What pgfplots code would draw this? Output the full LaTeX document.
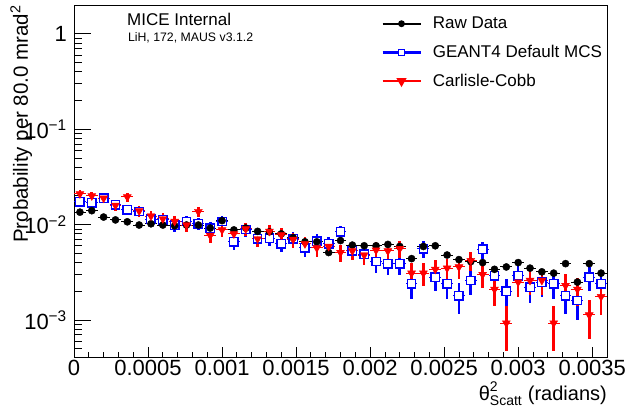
\documentclass[border=0pt]{standalone}
\usepackage{pgfplots}
\usepackage{pgfplotstable}
\pgfplotsset{compat=1.18}
\usepackage{fontspec}
\setmainfont{Liberation Sans}
\usepackage{amsmath}

\pgfplotstableread{
x y ey
0.00004 0.0135 0.00052
0.00012 0.0140 0.00053
0.00020 0.0120 0.00049
0.00028 0.0112 0.00048
0.00036 0.0107 0.00047
0.00044 0.0099 0.00045
0.00052 0.0102 0.00046
0.00060 0.0099 0.00045
0.00068 0.0097 0.00044
0.00076 0.0099 0.00045
0.00084 0.0099 0.00045
0.00092 0.0092 0.00043
0.00100 0.0110 0.00047
0.00108 0.0088 0.00042
0.00116 0.0092 0.00043
0.00124 0.0085 0.00041
0.00132 0.0084 0.00041
0.00140 0.0080 0.00040
0.00148 0.0073 0.00038
0.00156 0.0066 0.00037
0.00164 0.0066 0.00037
0.00172 0.0051 0.00032
0.00180 0.0068 0.00037
0.00188 0.0061 0.00035
0.00196 0.0060 0.00035
0.00204 0.0060 0.00035
0.00212 0.0062 0.00035
0.00220 0.0059 0.00035
0.00228 0.0044 0.00030
0.00236 0.0059 0.00035
0.00244 0.0060 0.00035
0.00252 0.0048 0.00031
0.00260 0.0043 0.00030
0.00268 0.0041 0.00029
0.00276 0.0040 0.00028
0.00284 0.0034 0.00026
0.00292 0.0036 0.00027
0.00300 0.0040 0.00028
0.00308 0.0035 0.00027
0.00316 0.0032 0.00025
0.00324 0.0031 0.00025
0.00332 0.0039 0.00028
0.00340 0.0025 0.00023
0.00348 0.0039 0.00028
0.00356 0.0031 0.00025
}\rawdata

\pgfplotstableread{
x y ey
0.00004 0.0174 0.00198
0.00012 0.0170 0.00196
0.00020 0.0189 0.00206
0.00028 0.0161 0.00190
0.00036 0.0143 0.00179
0.00044 0.0137 0.00176
0.00052 0.0114 0.00160
0.00060 0.0112 0.00159
0.00068 0.0099 0.00149
0.00076 0.0108 0.00156
0.00084 0.0102 0.00152
0.00092 0.0092 0.00144
0.00100 0.0108 0.00156
0.00108 0.0066 0.00122
0.00116 0.0089 0.00142
0.00124 0.0071 0.00126
0.00132 0.0072 0.00127
0.00140 0.0063 0.00119
0.00148 0.0071 0.00126
0.00156 0.0057 0.00113
0.00164 0.0067 0.00123
0.00172 0.0063 0.00119
0.00180 0.0084 0.00137
0.00188 0.0053 0.00109
0.00196 0.0049 0.00105
0.00204 0.0041 0.00096
0.00212 0.0039 0.00094
0.00220 0.0039 0.00094
0.00228 0.0024 0.00073
0.00236 0.0056 0.00112
0.00244 0.0028 0.00079
0.00252 0.0024 0.00073
0.00260 0.0018 0.00064
0.00268 0.0026 0.00076
0.00276 0.0055 0.00111
0.00284 0.0029 0.00081
0.00292 0.0020 0.00067
0.00300 0.0029 0.00081
0.00308 0.0022 0.00070
0.00316 0.0025 0.00075
0.00324 0.0024 0.00073
0.00332 0.0018 0.00064
0.00340 0.0016 0.00060
0.00348 0.0028 0.00079
0.00356 0.0024 0.00073
}\geantdata

\pgfplotstableread{
x y ey
0.00004 0.0210 0.00217
0.00012 0.0200 0.00212
0.00020 0.0189 0.00206
0.00028 0.0159 0.00189
0.00036 0.0195 0.00209
0.00044 0.0139 0.00177
0.00052 0.0123 0.00166
0.00060 0.0115 0.00161
0.00068 0.0108 0.00156
0.00076 0.0099 0.00149
0.00084 0.0137 0.00176
0.00092 0.0077 0.00132
0.00100 0.0088 0.00141
0.00108 0.0080 0.00134
0.00116 0.0090 0.00142
0.00124 0.0071 0.00126
0.00132 0.0085 0.00138
0.00140 0.0078 0.00132
0.00148 0.0070 0.00126
0.00156 0.0063 0.00119
0.00164 0.0057 0.00113
0.00172 0.0059 0.00115
0.00180 0.0051 0.00107
0.00188 0.0053 0.00109
0.00196 0.0048 0.00104
0.00204 0.0054 0.00110
0.00212 0.0053 0.00109
0.00220 0.0056 0.00112
0.00228 0.0031 0.00084
0.00236 0.0031 0.00084
0.00244 0.0034 0.00087
0.00252 0.0035 0.00089
0.00260 0.0036 0.00090
0.00268 0.0042 0.00097
0.00276 0.0030 0.00082
0.00284 0.0021 0.00069
0.00292 0.00093 0.00046
0.00300 0.0025 0.00075
0.00308 0.0026 0.00076
0.00316 0.0026 0.00076
0.00324 0.00093 0.00046
0.00332 0.0023 0.00072
0.00340 0.0021 0.00069
0.00348 0.00113 0.00050
0.00356 0.00176 0.00063
}\ccdata

\begin{document}
\begin{tikzpicture}
\begin{axis}[name=ax,
  scale only axis, width=533pt, height=352pt,
  xmin=0, xmax=0.0036, ymode=log, ymin=4.1e-4, ymax=2,
  xtick=\empty, scaled x ticks=false,
  ytick={0.001,0.01,0.1,1},
  yticklabels={10\textsuperscript{−3},10\textsuperscript{−2},10\textsuperscript{−1},1},
  minor ytick={5e-4,6e-4,7e-4,8e-4,9e-4,0.002,0.003,0.004,0.005,0.006,0.007,0.008,0.009,0.02,0.03,0.04,0.05,0.06,0.07,0.08,0.09,0.2,0.3,0.4,0.5,0.6,0.7,0.8,0.9},
  ytick pos=left, tick align=inside,
  major tick length=17pt, minor tick length=8pt,
  tick style={black, line width=0.8pt},
  axis line style={line width=1pt},
  ticklabel style={font=\fontsize{22}{26}\selectfont},
  yticklabel style={inner sep=0pt, xshift=-7pt},
  every axis y label/.style={at={(rel axis cs:-0.0863,1)}, rotate=90, anchor=base east, inner sep=0pt, font=\fontsize{20.5}{24}\selectfont},
  ylabel={Probability per 80.0 mrad\textsuperscript{2}},
  every axis x label/.style={at={(rel axis cs:1,-0.1235)}, anchor=base east, inner sep=0pt, font=\fontsize{20}{24}\selectfont},
  xlabel={$\text{θ}^{\text{2}}_{\text{Scatt}}$ (radians)},
  legend style={at={(rel axis cs:0.576,0.969)}, anchor=north west, draw=none, fill=none, inner sep=0pt, row sep=13pt, column sep=10pt, font=\fontsize{17}{20}\selectfont, nodes={inner sep=1pt}},
  legend cell align=left,
  legend image code/.code={\draw[mark repeat=2,mark phase=2,#1] plot coordinates {(0pt,0pt) (19pt,0pt) (38pt,0pt)};},
]
% GEANT4 (blue)
\addplot[blue, only marks, mark=none, forget plot, error bars/.cd, x dir=both, x fixed=0.00004, error mark=none, error bar style={line width=1pt, blue}] table[x=x,y=y]{\geantdata};
\addplot[blue, only marks, mark=square*, mark size=4.2pt, mark options={blue, fill=white, line width=1.4pt}, forget plot, error bars/.cd, y dir=both, y explicit, error mark=none, error bar style={line width=2.6pt, blue}] table[x=x,y=y,y error=ey]{\geantdata};
% Raw data (black)
\addplot[black, only marks, mark=none, forget plot, error bars/.cd, x dir=both, x fixed=0.00004, error mark=none, error bar style={line width=1pt, black}] table[x=x,y=y]{\rawdata};
\addplot[black, only marks, mark=*, mark size=3.6pt, forget plot, error bars/.cd, y dir=both, y explicit, error mark=none, error bar style={line width=1.3pt, black}] table[x=x,y=y,y error=ey]{\rawdata};
% Carlisle-Cobb (red)
\addplot[red, only marks, mark=none, forget plot, error bars/.cd, x dir=both, x fixed=0.00004, error mark=none, error bar style={line width=1pt, red}] table[x=x,y=y]{\ccdata};
\addplot[red, only marks, mark=triangle*, mark size=4.6pt, mark options={red, rotate=180}, forget plot, error bars/.cd, y dir=both, y explicit, error mark=none, error bar style={line width=2.6pt, red}] table[x=x,y=y,y error=ey]{\ccdata};

\addlegendimage{black, line width=1.6pt, mark=*, mark size=2.6pt}
\addlegendentry{Raw Data}
\addlegendimage{blue, line width=2.6pt, mark=square*, mark size=3pt, mark options={line width=1pt, fill=white}}
\addlegendentry{GEANT4 Default MCS}
\addlegendimage{red, line width=2.6pt, mark=triangle*, mark size=3.4pt, mark options={rotate=180}}
\addlegendentry{Carlisle-Cobb}

\node[anchor=north west, inner sep=0pt, font=\fontsize{17}{20}\selectfont] at (rel axis cs:0.0994,0.977) {MICE Internal};
\node[anchor=north west, inner sep=0pt, font=\fontsize{12.3}{14}\selectfont] at (rel axis cs:0.101,0.923) {LiH, 172, MAUS v3.1.2};
\end{axis}
\begin{axis}[
  scale only axis, width=533pt, height=352pt,
  xmin=0, xmax=0.0036, ymin=0, ymax=1,
  hide y axis, x axis line style={draw=none},
  scaled x ticks=false,
  xtick={0,0.0005,0.001,0.0015,0.002,0.0025,0.003,0.0035},
  xticklabels={0,0.0005,0.001,0.0015,0.002,0.0025,0.003,0.0035},
  minor x tick num=4,
  xtick pos=left, tick align=inside,
  major tick length=10pt, minor tick length=5pt,
  tick style={black, line width=0.8pt},
  xticklabel style={font=\fontsize{22}{26}\selectfont, inner sep=0pt, yshift=-3pt},
]
\end{axis}
\pgfresetboundingbox
\path[use as bounding box] ([xshift=-74pt,yshift=-53pt]ax.south west) rectangle ([xshift=18pt,yshift=5pt]ax.north east);
\end{tikzpicture}
\end{document}
